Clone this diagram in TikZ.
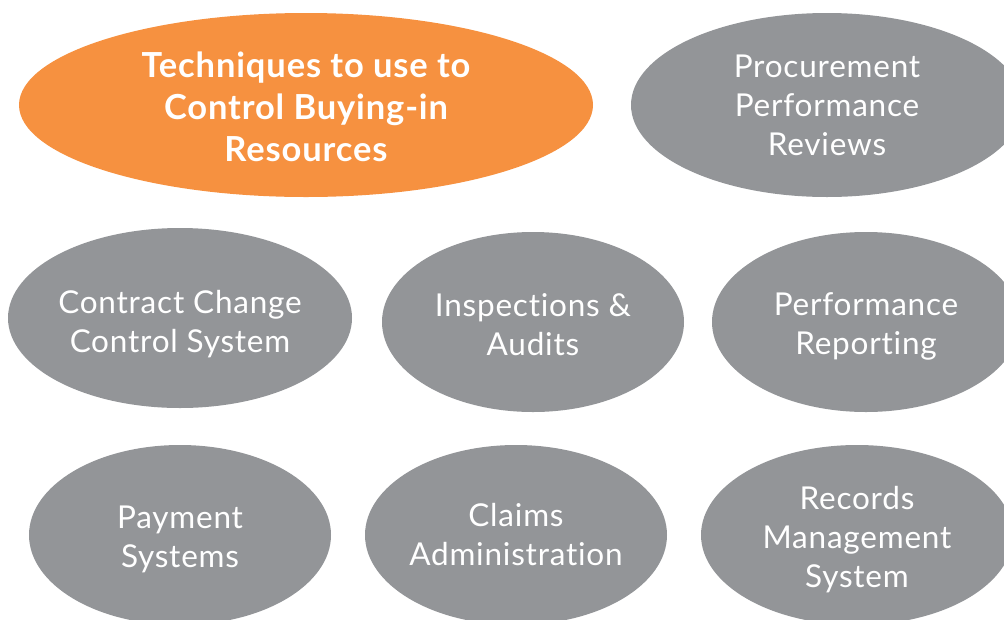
\documentclass[tikz,border=0pt]{standalone}
\usepackage{fontspec}
\setmainfont{Lato}[Ligatures={NoCommon,NoRare}, LetterSpace=2.5]
\usetikzlibrary{shapes.geometric}
\definecolor{blobgray}{RGB}{147,149,152}
\definecolor{bloborange}{RGB}{246,145,64}
\tikzset{
  blob/.style={ellipse, fill=blobgray, draw=none, inner sep=0pt},
  hot/.style={ellipse, fill=bloborange, draw=none, inner sep=0pt},
  graytext/.style={text=white, align=center, font=\fontsize{31.5}{39}\selectfont},
  boldtext/.style={text=white, align=center, font=\fontsize{34.5}{42}\selectfont\bfseries},
}
\begin{document}
\begin{tikzpicture}[x=1pt,y=-1pt]
\useasboundingbox (0,0) rectangle (1004,619);
\clip (0,0) rectangle (1004,619);
\node[hot, minimum width=574pt, minimum height=184pt] (main) at (306,105) {};
\node[boldtext] (maint) at ([yshift=-2pt]main.center) {Techniques to use to\\Control Buying-in\\Resources};
\node[blob, minimum width=392pt, minimum height=184pt] (proc) at (827,105) {};
\node[graytext] (proct) at (proc.center) {Procurement\\Performance\\Reviews};
\node[blob, minimum width=344pt, minimum height=180pt] (ccc) at (180,318) {};
\node[graytext] (ccct) at ([yshift=-6pt]ccc.center) {Contract Change\\Control System};
\node[blob, minimum width=302pt, minimum height=180pt] (insp) at (533,322) {};
\node[graytext] (inspt) at ([yshift=-3pt]insp.center) {Inspections \&\\Audits};
\node[blob, minimum width=308pt, minimum height=180pt] (perf) at (866,322) {};
\node[graytext] (perft) at ([yshift=-4pt]perf.center) {Performance\\Reporting};
\node[blob, minimum width=302pt, minimum height=180pt] (pay) at (180,535) {};
\node[graytext] (payt) at ([yshift=-4pt]pay.center) {Payment\\Systems};
\node[blob, minimum width=302pt, minimum height=180pt] (claim) at (516,535) {};
\node[graytext] (claimt) at (claim.center) {Claims\\Administration};
\node[blob, minimum width=312pt, minimum height=180pt] (rec) at (857,535) {};
\node[graytext] (rect) at ([yshift=-5pt]rec.center) {Records\\Management\\System};
\end{tikzpicture}
\end{document}
